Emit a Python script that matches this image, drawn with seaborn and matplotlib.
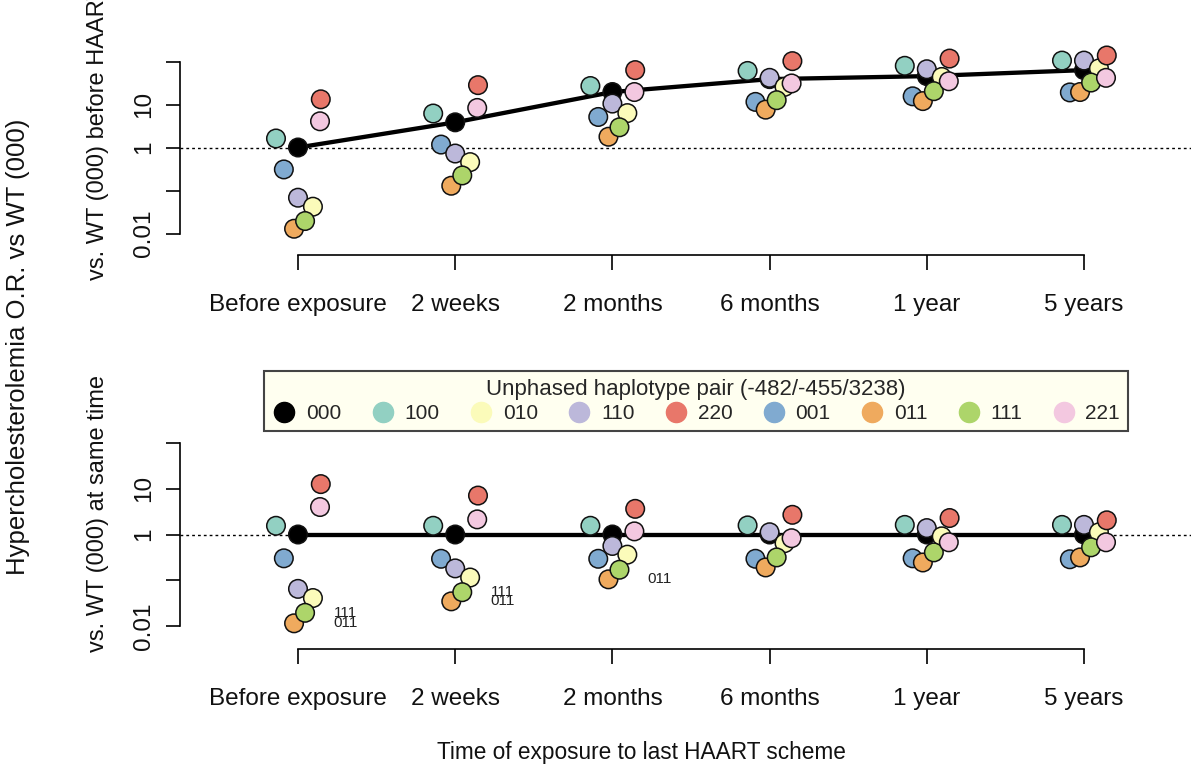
import numpy as np
import pandas as pd
import matplotlib
matplotlib.use("Agg")
import matplotlib.pyplot as plt
from matplotlib.lines import Line2D
import seaborn as sns

# ---------------- data ----------------
times = ["Before exposure", "2 weeks", "2 months", "6 months", "1 year", "5 years"]
genotypes = ["000", "100", "010", "110", "220", "001", "011", "111", "221"]
colors = ["#000000", "#92D0C2", "#FBFBBA", "#BCB8DA", "#E8776A",
          "#80AAD0", "#EFAA5E", "#ADD56A", "#F3C8E0"]

# O.R. vs WT (000) before HAART (top panel)
top_000 = [1.0, 3.85, 19.5, 38.9, 45.7, 63.1]
top_100 = [1.62, 6.17, 26.9, 60.3, 79.4, 105.0]
top_010 = [0.042, 0.457, 6.31, 25.7, 43.7, 69.2]
top_110 = [0.068, 0.724, 10.5, 41.7, 66.1, 105.0]
top_220 = [13.2, 28.2, 63.1, 102.0, 117.0, 138.0]
top_001 = [0.309, 1.17, 5.13, 11.5, 15.5, 19.1]
top_011 = [0.0129, 0.129, 1.78, 7.59, 12.0, 19.5]
top_111 = [0.0195, 0.224, 2.95, 12.6, 20.4, 32.4]
top_221 = [4.07, 8.32, 19.5, 30.9, 34.7, 41.7]

# O.R. vs WT (000) at same time (bottom panel)
bot_000 = [1.0, 1.0, 1.0, 1.0, 1.0, 1.0]
bot_100 = [1.55, 1.55, 1.55, 1.58, 1.62, 1.62]
bot_010 = [0.041, 0.115, 0.363, 0.646, 0.912, 1.12]
bot_110 = [0.065, 0.182, 0.562, 1.12, 1.38, 1.62]
bot_220 = [12.6, 7.08, 3.63, 2.69, 2.29, 2.04]
bot_001 = [0.302, 0.295, 0.295, 0.295, 0.302, 0.288]
bot_011 = [0.0115, 0.0347, 0.105, 0.191, 0.245, 0.316]
bot_111 = [0.0195, 0.055, 0.17, 0.316, 0.407, 0.525]
bot_221 = [3.98, 2.14, 1.17, 0.83, 0.676, 0.676]

# point annotations in the bottom panel (time, genotype)
annot_times = ["Before exposure", "Before exposure", "2 weeks", "2 weeks", "2 months"]
annot_genos = ["111", "011", "111", "011", "011"]

ytick_vals = [0.01, 0.1, 1, 10, 100]
ytick_labels = ["0.01", "", "1", "10", ""]

legend_title = "Unphased haplotype pair (-482/-455/3238)"
xlabel = "Time of exposure to last HAART scheme"
ylabel_main = "Hypercholesterolemia O.R. vs WT (000)"
ylabel_top = "vs. WT (000) before HAART"
ylabel_bot = "vs. WT (000) at same time"

# ---------------- styling ----------------
offsets = {"000": 0.0, "100": -0.14, "010": 0.095, "110": 0.0, "220": 0.145,
           "001": -0.09, "011": -0.025, "111": 0.045, "221": 0.14}
draw_order = ["000", "100", "001", "110", "010", "011", "111", "220", "221"]
palette = dict(zip(genotypes, colors))

top_vals = dict(zip(genotypes, [top_000, top_100, top_010, top_110, top_220,
                                top_001, top_011, top_111, top_221]))
bot_vals = dict(zip(genotypes, [bot_000, bot_100, bot_010, bot_110, bot_220,
                                bot_001, bot_011, bot_111, bot_221]))


def make_df(vals):
    rows = []
    for g in draw_order:
        for i, t in enumerate(times):
            rows.append({"genotype": g, "time": t, "tidx": i,
                         "x": i + offsets[g], "OR": vals[g][i]})
    return pd.DataFrame(rows)


df_top = make_df(top_vals)
df_bot = make_df(bot_vals)

sns.set_theme(style="white")
plt.rcParams["font.family"] = ["Liberation Sans", "DejaVu Sans"]

W, H = 1191, 769
fig = plt.figure(figsize=(W / 100, H / 100), dpi=100)

px_unit = 157.2
x_left_px, x_right_px = 180, 1191
xlim = (-(298 - x_left_px) / px_unit, 5 + (x_right_px - 1084) / px_unit)

ax_top = fig.add_axes([x_left_px / W, 1 - 255 / H, (x_right_px - x_left_px) / W, 215 / H])
ax_bot = fig.add_axes([x_left_px / W, 1 - 649 / H, (x_right_px - x_left_px) / W, 229 / H])

for ax, df in [(ax_top, df_top), (ax_bot, df_bot)]:
    ax.set_yscale("log")
    ax.axhline(1, color="black", lw=1.0, ls=(0, (2, 2.2)), zorder=0)
    ref = df[df["genotype"] == "000"]
    sns.lineplot(data=ref, x="tidx", y="OR", color="black", lw=3.1, ax=ax,
                 legend=False, zorder=1, errorbar=None)
    sns.scatterplot(data=df, x="x", y="OR", hue="genotype", palette=palette,
                    hue_order=genotypes, s=178, edgecolor="#111111", linewidth=1.1,
                    ax=ax, legend=False, zorder=2, alpha=1)
    ax.set_xlim(*xlim)
    ax.set_ylim(10 ** -2.5, 10 ** 2.5)
    ax.set_xticks(range(len(times)))
    ax.set_xticklabels(times)
    ax.set_yticks(ytick_vals)
    ax.set_yticklabels(ytick_labels)
    ax.yaxis.set_minor_locator(matplotlib.ticker.NullLocator())
    ax.set_xlabel("")
    ax.set_ylabel("")
    for s in ["top", "right"]:
        ax.spines[s].set_visible(False)
    for s in ["left", "bottom"]:
        ax.spines[s].set_color("black")
        ax.spines[s].set_linewidth(1.2)
    ax.spines["left"].set_bounds(0.01, 100)
    ax.spines["bottom"].set_bounds(0, 5)
    ax.tick_params(axis="x", length=11, width=1.2, color="black", pad=17,
                   labelsize=17.5, labelcolor="#111111", bottom=True)
    ax.tick_params(axis="y", length=10, width=1.2, color="black", pad=8,
                   labelsize=17.5, labelcolor="#111111", left=True)
    for lab in ax.get_yticklabels():
        lab.set_rotation(90)
        lab.set_va("center")
    ax.set_facecolor("white")
    ax.grid(False)

# annotations in bottom panel
for t, g in zip(annot_times, annot_genos):
    i = times.index(t)
    ax_bot.text(i + 0.30, bot_vals[g][i], g, fontsize=11, ha="center",
                va="center", color="#222222")

# legend
handles = [Line2D([0], [0], marker="o", ls="", markersize=14.5,
                  markerfacecolor=c, markeredgecolor=c) for c in colors]
leg = fig.legend(handles, genotypes, ncol=9, title=legend_title,
                 loc="center", bbox_to_anchor=(((262 + 1130) / 2) / W, 1 - 401 / H),
                 frameon=True, fancybox=False, framealpha=1, facecolor="#FFFFF0",
                 edgecolor="#444444", fontsize=15, title_fontsize=16,
                 handlelength=1.2, columnspacing=1.38, handletextpad=0.45,
                 borderpad=0.4, labelspacing=0.2)
leg.get_frame().set_linewidth(1.5)

fig.text(18 / W, 1 - 347 / H, ylabel_main, rotation=90, ha="center", va="center",
         fontsize=18.5, color="#111111")
fig.text(98 / W, 1 - 133 / H, ylabel_top, rotation=90, ha="center", va="center",
         fontsize=17, color="#111111")
fig.text(98 / W, 1 - 513 / H, ylabel_bot, rotation=90, ha="center", va="center",
         fontsize=17, color="#111111")
fig.text(641 / W, 1 - 752 / H, xlabel, ha="center", va="center",
         fontsize=16.3, color="#111111")

fig.savefig("out.png", dpi=100, facecolor="white")
